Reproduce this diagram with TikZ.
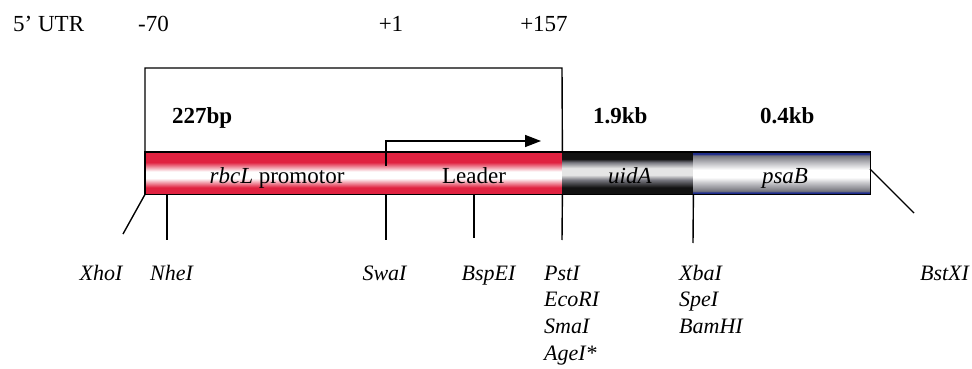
\documentclass[tikz,border=0pt]{standalone}
\usepackage{fontspec}
\setmainfont{Liberation Serif}
\usetikzlibrary{arrows.meta}

\definecolor{rbcred}{RGB}{224,34,64}
\definecolor{uiddark}{RGB}{18,18,18}
\definecolor{psablue}{RGB}{30,44,140}
\definecolor{midgray}{RGB}{118,118,126}
\definecolor{lightgray}{RGB}{200,200,204}

% vertical bands: the middle 25bp..75bp is stretched over each segment
\pgfdeclareverticalshading{redband}{100bp}{%
  color(0bp)=(rbcred); color(33bp)=(rbcred); color(44bp)=(white);
  color(52bp)=(white); color(63bp)=(rbcred); color(100bp)=(rbcred)}
\pgfdeclareverticalshading{darkband}{100bp}{%
  color(0bp)=(uiddark); color(33bp)=(uiddark); color(42bp)=(midgray);
  color(48bp)=(white!90!black); color(56bp)=(white!90!black);
  color(63bp)=(midgray); color(67bp)=(uiddark); color(100bp)=(uiddark)}
\pgfdeclareverticalshading{blueband}{100bp}{%
  color(0bp)=(psablue); color(27bp)=(psablue); color(29bp)=(midgray);
  color(39bp)=(lightgray); color(45bp)=(white); color(54bp)=(white);
  color(61bp)=(lightgray); color(71bp)=(midgray);
  color(73bp)=(psablue); color(100bp)=(psablue)}

\tikzset{
  seg/.style={rectangle, draw=none, inner sep=0pt, minimum height=42pt, anchor=north west},
  outline/.style={draw=black, line width=1.4pt},
  wire/.style={draw=black, line width=1.4pt},
  toplbl/.style={inner sep=0pt, font=\fontsize{23}{27}\selectfont},
  sizelbl/.style={inner sep=0pt, font=\fontsize{23}{27}\selectfont\bfseries},
  barlbl/.style={inner sep=0pt, anchor=base, font=\fontsize{23}{27}\selectfont},
  enz/.style={inner sep=0pt, font=\fontsize{22}{26.5}\selectfont\itshape},
}

\begin{document}
\begin{tikzpicture}[x=1pt, y=-1pt]
  \useasboundingbox[fill=white] (0,0) rectangle (972,369);

  % position scale along the 5' UTR
  \node[toplbl, anchor=base west] (utr)  at (13,32)  {5’ UTR};
  \node[toplbl, anchor=base west] (m70)  at (138,32) {-70};
  \node[toplbl, anchor=base]      (p1)   at (391,32) {+1};
  \node[toplbl, anchor=base]      (p157) at (544,32) {+157};

  % construct segments
  \node[seg, shading=redband,  minimum width=241pt] (prom) at (145,152) {};
  \node[seg, shading=redband,  minimum width=176pt] (lead) at (386,152) {};
  \node[seg, shading=darkband, minimum width=131pt] (uid)  at (562,152) {};
  \node[seg, shading=blueband, minimum width=177pt] (psa)  at (693,152) {};
  \draw[outline] (prom.north west) rectangle (psa.south east);

  \node[barlbl] (promtxt) at (277,183) {\textit{rbcL} promotor};
  \node[barlbl] (leadtxt) at (474,183) {Leader};
  \node[barlbl] (uidtxt)  at (630,183) {\textit{uidA}};
  \node[barlbl] (psatxt)  at (785,183) {\textit{psaB}};

  % segment sizes
  \node[sizelbl, anchor=base west] (s227) at (172,123) {227bp};
  \node[sizelbl, anchor=base west] (s19)  at (593,123) {1.9kb};
  \node[sizelbl, anchor=base west] (s04)  at (760,123) {0.4kb};

  % bracket over promoter and leader
  \coordinate (brL) at (145,68);
  \coordinate (brR) at (562,68);
  \draw[wire] (prom.north west) -- (brL) -- (brR) -- (lead.north east);

  % transcription start
  \coordinate (tss)    at (386,166);
  \coordinate (tssTop) at (386,141);
  \coordinate (tssTip) at (541,141);
  \draw[wire, -{Triangle[length=16pt,width=12pt]}] (tss) -- (tssTop) -- (tssTip);

  % restriction sites
  \coordinate (xhoEnd) at (123,234);
  \coordinate (nheTop) at (167,194);  \coordinate (nheEnd) at (167,240);
  \coordinate (swaTop) at (386,194);  \coordinate (swaEnd) at (386,240);
  \coordinate (bspTop) at (474,194);  \coordinate (bspEnd) at (474,238);
  \coordinate (pstEnd) at (562,240);
  \coordinate (xbaEnd) at (693,243);
  \coordinate (bstTop) at (870,169);  \coordinate (bstEnd) at (914,213);

  \draw[wire] (prom.south west) -- (xhoEnd);
  \draw[wire] (nheTop) -- (nheEnd);
  \draw[wire] (swaTop) -- (swaEnd);
  \draw[wire] (bspTop) -- (bspEnd);
  \draw[wire] (lead.south east) -- (pstEnd);
  \draw[wire] (uid.south east) -- (xbaEnd);
  \draw[wire] (bstTop) -- (bstEnd);

  \node[enz, anchor=base] (xho) at (101,280)   {XhoI};
  \node[enz, anchor=base] (nhe) at (171.5,280) {NheI};
  \node[enz, anchor=base] (swa) at (384.5,280) {SwaI};
  \node[enz, anchor=base] (bsp) at (488.5,280) {BspEI};
  \node[enz, anchor=base] (bst) at (944.5,280) {BstXI};

  \node[enz, anchor=base west] (pst) at (544,280)   {PstI};
  \node[enz, anchor=base west] (eco) at (544,306.7) {EcoRI};
  \node[enz, anchor=base west] (sma) at (544,333.3) {SmaI};
  \node[enz, anchor=base west] (age) at (544,360)   {AgeI*};

  \node[enz, anchor=base west] (xba) at (679,280)   {XbaI};
  \node[enz, anchor=base west] (spe) at (679,306.7) {SpeI};
  \node[enz, anchor=base west] (bam) at (679,333.3) {BamHI};
\end{tikzpicture}
\end{document}
